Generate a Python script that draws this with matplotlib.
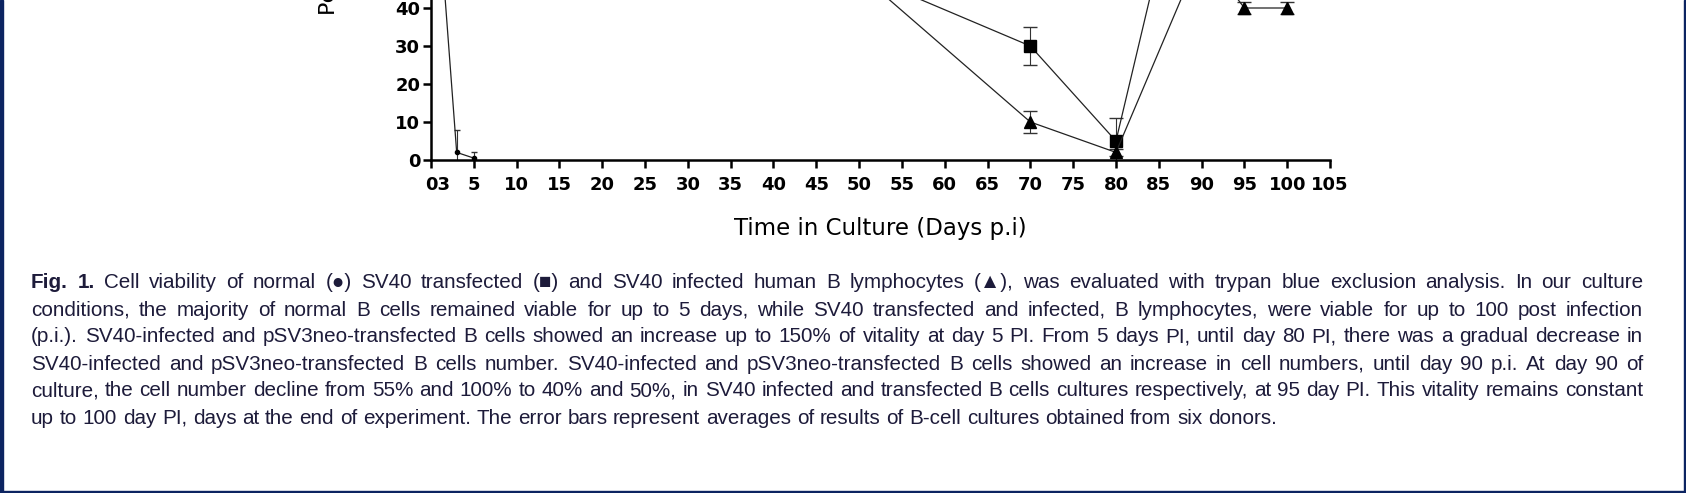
import matplotlib
matplotlib.use('Agg')
import matplotlib.pyplot as plt
import matplotlib.transforms as mtransforms
from matplotlib import font_manager
from matplotlib.patches import Rectangle

# ---- data ----
normal_days = [0, 3, 5]
normal_vals = [92, 2, 0.5]
normal_err = [0, 6, 1.5]

transf_days = [0, 5, 70, 80, 90, 95, 100]
transf_vals = [100, 92, 30, 5, 100, 50, 50]
transf_err = [0, 5, 5, 6, 5, 5, 5]

infect_days = [0, 5, 70, 80, 90, 95, 100]
infect_vals = [100, 137, 10, 2, 55, 40, 40]
infect_err = [0, 5, 3, 1, 5, 1.5, 1.5]

x_ticks = list(range(0, 106, 5))
x_ticklabels = ['03'] + [str(v) for v in x_ticks[1:]]
y_ticks = list(range(0, 161, 10))

caption_lines = [
    "Fig. 1. Cell viability of normal (\u25cf) SV40 transfected (\u25a0) and SV40 infected human B lymphocytes (\u25b2), was evaluated with trypan blue exclusion analysis. In our culture",
    "conditions, the majority of normal B cells remained viable for up to 5 days, while SV40 transfected and infected, B lymphocytes, were viable for up to 100 post infection",
    "(p.i.). SV40-infected and pSV3neo-transfected B cells showed an increase up to 150% of vitality at day 5 PI. From 5 days PI, until day 80 PI, there was a gradual decrease in",
    "SV40-infected and pSV3neo-transfected B cells number. SV40-infected and pSV3neo-transfected B cells showed an increase in cell numbers, until day 90 p.i. At day 90 of",
    "culture, the cell number decline from 55% and 100% to 40% and 50%, in SV40 infected and transfected B cells cultures respectively, at 95 day PI. This vitality remains constant",
    "up to 100 day PI, days at the end of experiment. The error bars represent averages of results of B-cell cultures obtained from six donors.",
]

W, H = 1686, 493
fig = plt.figure(figsize=(W / 100, H / 100), dpi=100)

# axes runs off the top of the picture (the reference is a crop)
ax = fig.add_axes([431 / W, (H - 160) / H, 899 / W, 608 / H])
ax.set_xlim(0, 105)
ax.set_ylim(0, 160)

line_kw = dict(color='#222222', linewidth=0.9, ecolor='#333333', elinewidth=0.8)
ax.errorbar(normal_days, normal_vals, yerr=normal_err, fmt='-o', markersize=3,
            markerfacecolor='black', markeredgecolor='black', capsize=2, **line_kw)
ax.errorbar(transf_days, transf_vals, yerr=transf_err, fmt='-s', markersize=8.5,
            markerfacecolor='black', markeredgecolor='black', capsize=4.7, **line_kw)
ax.errorbar(infect_days, infect_vals, yerr=infect_err, fmt='-^', markersize=8,
            markerfacecolor='black', markeredgecolor='black', capsize=4.7, **line_kw)

for s in ['top', 'right']:
    ax.spines[s].set_visible(False)
for s in ['left', 'bottom']:
    ax.spines[s].set_linewidth(1.8)
ax.tick_params(direction='out', length=5.8, width=1.8, labelsize=13)
ax.tick_params(axis='x', pad=6)
ax.tick_params(axis='y', pad=2)
ax.set_xticks(x_ticks)
ax.set_xticklabels(x_ticklabels, fontweight='bold', family='DejaVu Sans')
ax.set_yticks(y_ticks)
ax.set_yticklabels([str(v) for v in y_ticks], fontweight='bold', family='DejaVu Sans')
shift = mtransforms.ScaledTranslation(6.5 / 100, 0, fig.dpi_scale_trans)
first = ax.get_xticklabels()[0]
first.set_transform(first.get_transform() + shift)

ax.set_xlabel('Time in Culture (Days p.i)', fontsize=16.5, family='DejaVu Sans')
ax.xaxis.label.set_va('center')
ax.xaxis.set_label_coords(0.5, -69 / 608)
ax.set_ylabel('Percent Viability (%)', fontsize=16, family='DejaVu Sans')
ax.yaxis.label.set_rotation_mode('anchor')
ax.yaxis.label.set_ha('left')
ax.yaxis.label.set_va('center')
ax.yaxis.set_label_coords((329 - 431) / 899, (160 - 15) / 608)

# ---- caption, justified word by word ----
names = {f.name for f in font_manager.fontManager.ttflist}
cap_font = next((n for n in ['Liberation Sans', 'Roboto'] if n in names), 'DejaVu Sans')
cap_family = [cap_font, 'DejaVu Sans']
cap_color = '#1d1b3a'
left, right = 31, 1643
first_y, step = 283, 27.0

renderer = fig.canvas.get_renderer()
natural = 0
for line in caption_lines[:-1]:
    probe = fig.text(0, 0, line, fontsize=12, family=cap_family)
    natural = max(natural, probe.get_window_extent(renderer).width)
    probe.remove()
cap_size = 12 * (right - left) / natural * 0.995

for i, line in enumerate(caption_lines):
    words = line.split(' ')
    y = 1 - (first_y + i * step) / H
    texts = []
    for j, w in enumerate(words):
        bold = (i == 0 and j < 2)
        t = fig.text(0, y, w, fontsize=cap_size, family=cap_family, color=cap_color,
                     fontweight='bold' if bold else 'normal', va='center', ha='left')
        texts.append(t)
    widths = [t.get_window_extent(renderer).width for t in texts]
    if i < len(caption_lines) - 1:
        gap = (right - left - sum(widths)) / (len(words) - 1)
    else:
        sp = fig.text(0, 0, 'a a', fontsize=cap_size, family=cap_family)
        sp2 = fig.text(0, 0, 'aa', fontsize=cap_size, family=cap_family)
        gap = sp.get_window_extent(renderer).width - sp2.get_window_extent(renderer).width
        sp.remove()
        sp2.remove()
    x = left
    for t, wd in zip(texts, widths):
        t.set_x(x / W)
        x += wd + gap

# ---- navy frame on left, right and bottom ----
navy = '#0c2461'
fig.patches.append(Rectangle((0, 0), 2.5 / W, 1, transform=fig.transFigure,
                             color=navy, zorder=10))
fig.patches.append(Rectangle((1 - 2 / W, 0), 2 / W, 1, transform=fig.transFigure,
                             color=navy, zorder=10))
fig.patches.append(Rectangle((0, 0), 1, 2.5 / H, transform=fig.transFigure,
                             color=navy, zorder=10))

fig.savefig('out.png', dpi=100)
